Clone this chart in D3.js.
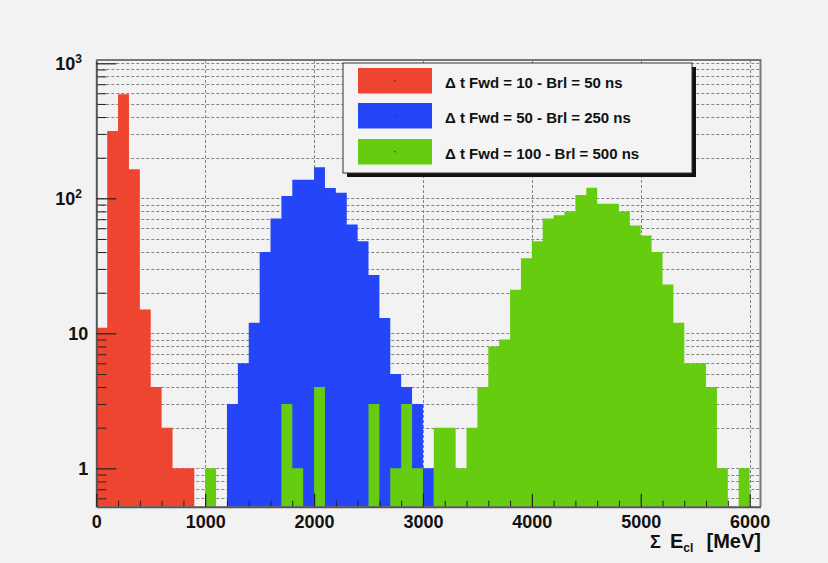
<!DOCTYPE html>
<html>
<head>
<meta charset="utf-8">
<script src="https://cdn.jsdelivr.net/npm/d3@7"></script>
<style>
  html, body { margin: 0; padding: 0; background: #f2f2f2; }
  svg { display: block; }
  text { font-family: "Liberation Sans", Arial, sans-serif; font-weight: bold; fill: #111; }
</style>
</head>
<body>
<svg id="chart" width="828" height="563"></svg>
<script>
// Summed cluster energy histograms, 100 MeV bins, for three time windows
const binWidth = 100;

const seriesLabels = [
  "\u0394 t Fwd = 10 - Brl = 50 ns",
  "\u0394 t Fwd = 50 - Brl = 250 ns",
  "\u0394 t Fwd = 100 - Brl = 500 ns"
];
const seriesColors = ["#ee4530", "#2446f8", "#66cc10"];

// first bin low edge (MeV) and counts per bin
const redStart = 0;
const redCounts = [11, 315, 589, 164, 15, 4, 2, 1, 1];

const blueStart = 1200;
const blueCounts = [3, 6, 12, 40, 71, 104, 137, 137, 170, 119, 110, 64, 48, 27, 13, 5, 4, 3, 1];

const greenStart = 1000;
const greenCounts = [1, 0, 0, 0, 0, 0, 0, 3, 1, 0, 4, 0, 0, 0, 0, 3, 0, 1, 3, 1,
                     0, 2, 2, 1, 2, 4, 8, 9, 21, 36, 48, 71, 75, 80, 106, 120, 91, 91, 80, 63,
                     53, 40, 23, 12, 6, 6, 4, 1, 0, 1];

const xMajorTicks = [0, 1000, 2000, 3000, 4000, 5000, 6000];
const yMajorTicks = [1, 10, 100, 1000];

const svg = d3.select("#chart");

const x = d3.scaleLinear().domain([0, 6100]).range([96.3, 760.5]);
const y = d3.scaleLog().domain([0.52, 1058]).range([506.7, 60]);

const [x0, x1] = x.range();
const [yb, yt] = y.range();

// grid lines
const yGrid = [];
for (let e = -1; e <= 3; e++) {
  for (let m = 1; m <= 9; m++) {
    const v = m * Math.pow(10, e);
    if (v >= y.domain()[0] && v <= y.domain()[1]) yGrid.push(v);
  }
}
const grid = svg.append("g").attr("stroke", "#858585").attr("stroke-width", 1)
  .attr("stroke-dasharray", "3,2");
grid.selectAll("line.h").data(yGrid).join("line").attr("class", "h")
  .attr("x1", x0).attr("x2", x1)
  .attr("y1", d => Math.round(y(d)) + 0.5).attr("y2", d => Math.round(y(d)) + 0.5);
grid.selectAll("line.v").data(xMajorTicks.filter(d => d > 0)).join("line").attr("class", "v")
  .attr("x1", d => Math.round(x(d)) + 0.5).attr("x2", d => Math.round(x(d)) + 0.5)
  .attr("y1", yt).attr("y2", yb);

// histograms
svg.append("clipPath").attr("id", "plotclip").append("rect")
  .attr("x", x0).attr("y", yt).attr("width", x1 - x0).attr("height", yb - yt);

const area = d3.area()
  .curve(d3.curveStepAfter)
  .x(d => x(d.e))
  .y0(yb)
  .y1(d => d.c > 0 ? y(d.c) : yb);

function binsOf(start, counts) {
  const pts = counts.map((c, i) => ({ e: start + i * binWidth, c }));
  pts.push({ e: start + counts.length * binWidth, c: 0 });
  return pts;
}

const hists = [
  binsOf(redStart, redCounts),
  binsOf(blueStart, blueCounts),
  binsOf(greenStart, greenCounts)
];

svg.append("g").attr("clip-path", "url(#plotclip)")
  .selectAll("path").data(hists).join("path")
  .attr("d", area)
  .attr("fill", (d, i) => seriesColors[i]);

// axes
const axisColor = "#555";

const yMinorTicks = yGrid.filter(v => !yMajorTicks.includes(v));
svg.append("g").attr("transform", `translate(${x0},0)`)
  .call(d3.axisLeft(y).tickValues(yMinorTicks).tickSize(-10).tickSizeOuter(0).tickFormat(""))
  .call(g => g.select(".domain").remove())
  .call(g => g.selectAll("line").attr("stroke", "#222"));

const yAxis = svg.append("g").attr("transform", `translate(${x0},0)`)
  .call(d3.axisLeft(y).tickValues(yMajorTicks).tickSize(-20).tickSizeOuter(0).tickPadding(8)
    .tickFormat(d => d >= 100 ? "10" : String(d)));
yAxis.select(".domain").attr("stroke", axisColor).attr("stroke-width", 2);
yAxis.selectAll("line").attr("stroke", "#222").attr("stroke-width", 1.2);
yAxis.selectAll("text")
  .attr("font-size", 18).attr("font-family", "Liberation Sans, Arial, sans-serif")
  .attr("font-weight", "bold").attr("fill", "#111")
  .each(function (d) {
    if (d >= 100) {
      const t = d3.select(this);
      t.attr("dx", "-0.35em");
      t.append("tspan").attr("font-size", 12).attr("dy", "-0.55em")
        .text(String(Math.round(Math.log10(d))));
    }
  });

const xMinorTicks = d3.range(0, 6101, 200).filter(v => !xMajorTicks.includes(v));
svg.append("g").attr("transform", `translate(0,${yb})`)
  .call(d3.axisBottom(x).tickValues(xMinorTicks).tickSize(-6).tickSizeOuter(0).tickFormat(""))
  .call(g => g.select(".domain").remove())
  .call(g => g.selectAll("line").attr("stroke", "#222"));

const xAxis = svg.append("g").attr("transform", `translate(0,${yb})`)
  .call(d3.axisBottom(x).tickValues(xMajorTicks).tickSize(-13).tickSizeOuter(0).tickPadding(9)
    .tickFormat(d3.format("d")));
xAxis.select(".domain").attr("stroke", axisColor).attr("stroke-width", 2);
xAxis.selectAll("line").attr("stroke", "#222").attr("stroke-width", 1.2);
xAxis.selectAll("text")
  .attr("font-size", 18).attr("font-family", "Liberation Sans, Arial, sans-serif")
  .attr("font-weight", "bold").attr("fill", "#111");

// frame top and right
svg.append("path")
  .attr("d", `M${x0},${yt}H${x1}V${yb}`)
  .attr("fill", "none").attr("stroke", "#777").attr("stroke-width", 2);

// x axis title: Σ E_cl [MeV], right aligned to the frame
const titleY = 548;
const titleG = svg.append("g").attr("font-size", 20);
titleG.append("text").attr("x", 650).attr("y", titleY).attr("font-size", 18).text("\u03A3");
const eText = titleG.append("text").attr("x", 670).attr("y", titleY);
eText.append("tspan").text("E");
eText.append("tspan").attr("font-size", 12).attr("dy", 4).text("cl");
titleG.append("text").attr("x", 761).attr("y", titleY).attr("text-anchor", "end").text("[MeV]");

// legend
const legend = svg.append("g");
const lx = 343, ly = 63, lw = 349, lh = 110;
legend.append("rect").attr("x", lx + 4).attr("y", ly + 4).attr("width", lw).attr("height", lh)
  .attr("fill", "#111");
legend.append("rect").attr("x", lx).attr("y", ly).attr("width", lw).attr("height", lh)
  .attr("fill", "#f4f4f4").attr("stroke", "#333").attr("stroke-width", 1);

const rowY = [68, 103, 139];
const rows = legend.selectAll("g.row").data(seriesLabels).join("g").attr("class", "row")
  .attr("transform", (d, i) => `translate(0,${rowY[i]})`);
rows.append("rect").attr("x", 358).attr("y", 0).attr("width", 74).attr("height", 25.5)
  .attr("fill", (d, i) => seriesColors[i]);
rows.append("circle").attr("cx", 395).attr("cy", 12.75).attr("r", 0.8).attr("fill", "#333");
rows.append("text").attr("x", 445).attr("y", 19.5).attr("font-size", 15).text(d => d);
</script>
</body>
</html>
